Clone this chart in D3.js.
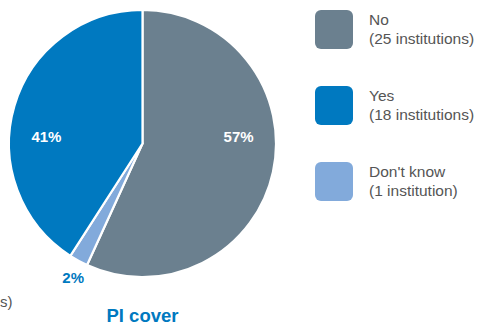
<!DOCTYPE html>
<html>
<head>
<meta charset="utf-8">
<script src="https://cdn.jsdelivr.net/npm/d3@7"></script>
<style>
  html, body { margin: 0; padding: 0; background: #fff; }
  svg { display: block; font-family: "Liberation Sans", Arial, Helvetica, sans-serif; }
</style>
</head>
<body>
<svg id="chart" width="480" height="327"></svg>
<script>
// PI cover responses, in drawing order (clockwise from 12 o'clock)
const categories = ["No", "Don't know", "Yes"];
const counts = [25, 1, 18];
const legendOrder = ["No", "Yes", "Don't know"];
const legendNotes = ["(25 institutions)", "(18 institutions)", "(1 institution)"];
const colors = ["#6b808f", "#82aadb", "#0079c0"];

const svg = d3.select("#chart");
const cx = 142.5, cy = 143.5, R = 133.5;

const color = d3.scaleOrdinal().domain(categories).range(colors);
const total = d3.sum(counts);
const pct = v => Math.round(v / total * 100) + "%";

const pie = d3.pie().sort(null).value(d => d.v);
const arcs = pie(categories.map((c, i) => ({ c, v: counts[i] })));
const arc = d3.arc().innerRadius(0).outerRadius(R);

const g = svg.append("g").attr("transform", `translate(${cx},${cy})`);

g.selectAll("path.slice")
  .data(arcs)
  .join("path")
  .attr("class", "slice")
  .attr("d", arc)
  .attr("fill", d => color(d.data.c))
  .attr("stroke", "#fff")
  .attr("stroke-width", 2.2)
  .attr("stroke-linejoin", "round");

// Large slices: white label on the slice, level with the centre
const big = arcs.filter(d => d.endAngle - d.startAngle > 0.5);
g.selectAll("text.inside")
  .data(big)
  .join("text")
  .attr("class", "inside")
  .attr("x", d => Math.sign(Math.sin((d.startAngle + d.endAngle) / 2)) * R * 0.72)
  .attr("y", -2)
  .attr("text-anchor", "middle")
  .attr("fill", "#fff")
  .attr("font-weight", "bold")
  .attr("font-size", 15)
  .text(d => pct(d.data.v));

// Small slices: coloured label outside the rim
const outer = d3.arc().innerRadius(R * 1.13).outerRadius(R * 1.13);
const small = arcs.filter(d => d.endAngle - d.startAngle <= 0.5);
g.selectAll("text.outside")
  .data(small)
  .join("text")
  .attr("class", "outside")
  .attr("transform", d => `translate(${outer.centroid(d)})`)
  .attr("dx", 3)
  .attr("dy", "0.45em")
  .attr("text-anchor", "middle")
  .attr("fill", "#0079c0")
  .attr("font-weight", "bold")
  .attr("font-size", 15)
  .text(d => pct(d.data.v));

// Chart title
svg.append("text")
  .attr("x", cx)
  .attr("y", 322)
  .attr("text-anchor", "middle")
  .attr("fill", "#0079c0")
  .attr("font-weight", "bold")
  .attr("font-size", 18.5)
  .text("PI cover");

// Tail of the neighbouring panel's legend note
svg.append("text")
  .attr("x", 0)
  .attr("y", 307)
  .attr("fill", "#555")
  .attr("font-size", 15)
  .text("s)");

// Legend
const ly = d3.scalePoint().domain(legendOrder).range([10, 162]);
const leg = svg.selectAll("g.leg")
  .data(legendOrder)
  .join("g")
  .attr("class", "leg")
  .attr("transform", d => `translate(315,${ly(d)})`);

leg.append("rect")
  .attr("width", 38)
  .attr("height", 39)
  .attr("rx", 6)
  .attr("fill", d => color(d));

leg.append("text")
  .attr("x", 54)
  .attr("y", 15)
  .attr("fill", "#555")
  .attr("font-size", 15.5)
  .text(d => d);

leg.append("text")
  .attr("x", 54)
  .attr("y", 34)
  .attr("fill", "#555")
  .attr("font-size", 15.5)
  .text((d, i) => legendNotes[i]);
</script>
</body>
</html>
